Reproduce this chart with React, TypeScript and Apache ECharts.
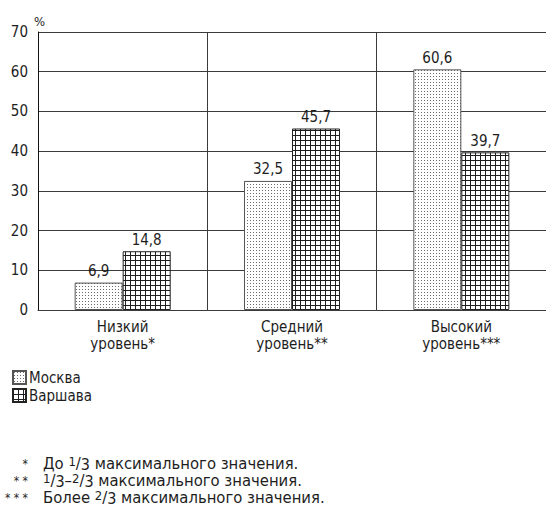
import React, { useEffect, useRef } from "react";
import * as echarts from "echarts";

const categories = ["Низкий\nуровень*", "Средний\nуровень**", "Высокий\nуровень***"];
const seriesNames = ["Москва", "Варшава"];
const moscow = [6.9, 32.5, 60.6];
const warsaw = [14.8, 45.7, 39.7];
const yTicks = { min: 0, max: 70, interval: 10 };
const footMarks = ["*", "* *", "* * *"];

const FONT = "'DejaVu Sans Condensed', 'Liberation Sans Narrow', 'Roboto', sans-serif";
const TXT = "#1e1e1e";
const LINE = "#3a3a3a";

const dotsSvg =
  "data:image/svg+xml;utf8," +
  encodeURIComponent(
    '<svg xmlns="http://www.w3.org/2000/svg" width="3" height="3"><rect width="3" height="3" fill="#ffffff"/><rect x="1" y="1" width="1" height="1" fill="#6a6a6a"/></svg>'
  );
const gridSvg =
  "data:image/svg+xml;utf8," +
  encodeURIComponent(
    '<svg xmlns="http://www.w3.org/2000/svg" width="5" height="5"><rect width="5" height="5" fill="#ffffff"/><rect x="0" y="0" width="5" height="1" fill="#1e1e1e"/><rect x="0" y="0" width="1" height="5" fill="#1e1e1e"/></svg>'
  );

const dotsPattern: any = { image: dotsSvg, repeat: "repeat", imageWidth: 3, imageHeight: 3 };
const gridPattern: any = { image: gridSvg, repeat: "repeat", imageWidth: 5, imageHeight: 5 };

const fmt = (v: number) => String(v).replace(".", ",");

const richFoot = {
  n: { fontSize: 16.5, lineHeight: 17, fontFamily: FONT, fill: TXT, color: TXT, verticalAlign: "middle" },
  s: { fontSize: 13, lineHeight: 13, fontFamily: FONT, fill: TXT, color: TXT, verticalAlign: "top" },
  d: { fontSize: 16, lineHeight: 15, fontFamily: FONT, fill: TXT, color: TXT, verticalAlign: "bottom" },
};

const footTexts = [
  "{n|До }{s|1}{n|/}{d|3}{n| максимального значения.}",
  "{s|1}{n|/}{d|3}{n|–}{s|2}{n|/}{d|3}{n| максимального значения.}",
  "{n|Более }{s|2}{n|/}{d|3}{n| максимального значения.}",
];

export default function App() {
  const ref = useRef<HTMLDivElement>(null);
  useEffect(() => {
    if (!ref.current) return;
    const chart = echarts.init(ref.current, null, { renderer: "svg" });
    const footY = [455, 472, 489];
    const graphics: any[] = [];
    footMarks.forEach((m, i) => {
      graphics.push({
        type: "text",
        x: 28,
        y: footY[i] + 3,
        style: {
          text: m,
          font: `12px ${FONT}`,
          fill: TXT,
          align: "right",
          textAlign: "right",
          verticalAlign: "top",
        },
      });
      graphics.push({
        type: "text",
        x: 43,
        y: footY[i],
        style: { text: footTexts[i], rich: richFoot, fill: TXT, align: "left", verticalAlign: "top" },
      });
    });
    chart.setOption({
      animation: false,
      backgroundColor: "#ffffff",
      textStyle: { fontFamily: FONT },
      grid: { left: 38, right: 0, top: 32, bottom: 197, containLabel: false },
      legend: {
        data: seriesNames,
        orient: "vertical",
        left: 12,
        top: 370,
        padding: 0,
        itemWidth: 13,
        itemHeight: 13,
        itemGap: 3,
        icon: "rect",
        textStyle: { fontSize: 15, color: TXT, fontFamily: FONT, padding: [0, 0, 0, -2] },
      },
      xAxis: {
        type: "category",
        data: categories,
        axisLine: { show: true, lineStyle: { color: LINE, width: 1 } },
        axisTick: { show: false },
        splitLine: { show: true, lineStyle: { color: LINE, width: 1 } },
        axisLabel: { fontSize: 15, color: TXT, fontFamily: FONT, lineHeight: 17, margin: 8 },
      },
      yAxis: {
        type: "value",
        min: yTicks.min,
        max: yTicks.max,
        interval: yTicks.interval,
        name: "%",
        nameLocation: "end",
        nameGap: 4,
        nameTextStyle: { fontSize: 13, color: TXT, fontFamily: FONT, align: "left", padding: [0, 0, 0, -4] },
        axisLine: { show: true, lineStyle: { color: "#111", width: 1 } },
        axisTick: { show: false },
        splitLine: { show: true, lineStyle: { color: LINE, width: 1 } },
        axisLabel: { fontSize: 15, color: TXT, fontFamily: FONT, margin: 10 },
      },
      series: [
        {
          name: seriesNames[0],
          type: "bar",
          data: moscow,
          barWidth: 48,
          barGap: "0%",
          itemStyle: { color: dotsPattern, borderColor: "#555", borderWidth: 1 },
          label: {
            show: true,
            position: "top",
            distance: 4,
            fontSize: 15,
            color: TXT,
            fontFamily: FONT,
            formatter: (p: any) => fmt(p.value),
          },
        },
        {
          name: seriesNames[1],
          type: "bar",
          data: warsaw,
          barWidth: 48,
          barGap: "0%",
          itemStyle: { color: gridPattern, borderColor: "#222", borderWidth: 1 },
          label: {
            show: true,
            position: "top",
            distance: 4,
            fontSize: 15,
            color: TXT,
            fontFamily: FONT,
            formatter: (p: any) => fmt(p.value),
          },
        },
      ],
      graphic: graphics,
    });
    return () => chart.dispose();
  }, []);
  return (
    <div
      ref={ref}
      style={{ position: "fixed", left: 0, top: 0, width: 546, height: 507, background: "#fff" }}
    />
  );
}
